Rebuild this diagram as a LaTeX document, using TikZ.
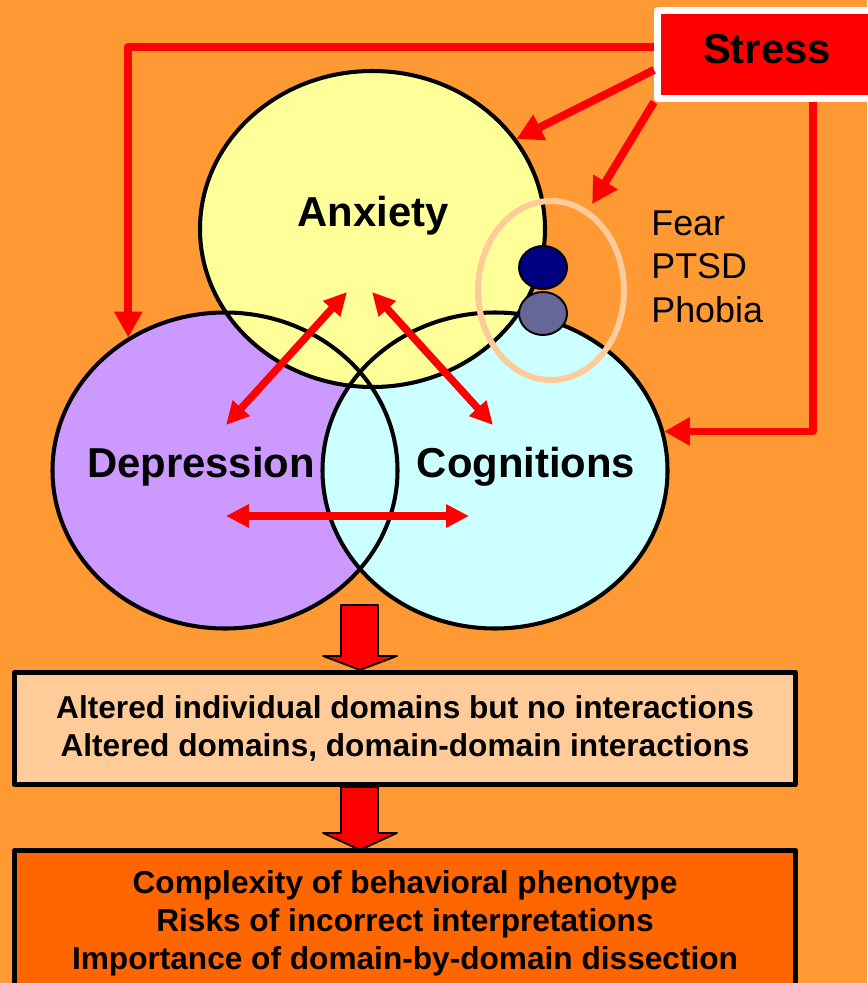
\documentclass[tikz,border=0pt]{standalone}
\usepackage{fontspec}
\setmainfont{Liberation Sans}
\usepackage{tikz}
\usetikzlibrary{positioning,arrows.meta,shapes.geometric}

\definecolor{bgorange}{HTML}{FF9933}
\definecolor{anxyellow}{HTML}{FFFF99}
\definecolor{deppurple}{HTML}{CC99FF}
\definecolor{cogcyan}{HTML}{CCFFFF}
\definecolor{ringpeach}{HTML}{FFCC99}
\definecolor{dotnavy}{HTML}{000080}
\definecolor{dotslate}{HTML}{666699}
\definecolor{outorange}{HTML}{FF6600}

\begin{document}
\begin{tikzpicture}[x=0.02cm, y=-0.02cm, line join=round,
  areafill/.style={ellipse, minimum width=6.9cm, minimum height=6.32cm, inner sep=0pt, outer sep=1.1pt},
  arealine/.style={draw=black, line width=2.3pt},
  areaname/.style={anchor=base, font=\bfseries\fontsize{23.8}{28}\selectfont},
  dotnode/.style={ellipse, draw=black, line width=1.1pt, minimum width=0.96cm, minimum height=0.86cm, inner sep=0pt},
  stressbox/.style={rectangle, fill=red, draw=white, line width=4pt, anchor=west, minimum width=4.38cm, minimum height=1.76cm, text depth=0.24cm, font=\bfseries\fontsize{23.8}{28}\selectfont},
  stressline/.style={draw=red, line width=4.5pt, line cap=butt, -{Triangle[width=15.3pt, length=14.7pt]}},
  linkarrow/.style={draw=red, line width=4.25pt, line cap=butt, {Triangle[width=12.5pt, length=13pt]}-{Triangle[width=12.5pt, length=13pt]}},
  blockarrow/.style={fill=red, draw=black, line width=1pt},
  resultbox/.style={rectangle, draw=black, line width=2.8pt, minimum width=15.62cm, align=center, font=\bfseries\fontsize{18}{21.7}\selectfont}]

% background
\fill[bgorange] (0,0) rectangle (867,983);
\useasboundingbox (0,0) rectangle (867,983);

% the three domains
\node[areafill, fill=deppurple] (dep) at (225,470.5) {};
\node[areafill, fill=cogcyan] (cog) at (495,470.5) {};
\node[areafill, fill=anxyellow] (anx) at (372.5,229) {};
\foreach \n in {dep,cog,anx} {
  \draw[arealine] (\n.center) ellipse [x radius=172.5, y radius=158];
}

% fear ring and dots
\node[ellipse, draw=ringpeach, line width=3.4pt, minimum width=2.92cm, minimum height=3.58cm, inner sep=0pt] (fear) at (551,290.5) {};
\node[dotnode, fill=dotnavy] (fear dot) at (543,267.5) {};
\node[dotnode, fill=dotslate] (ptsd dot) at (543,313.5) {};
\node[anchor=north west, inner sep=0pt, align=left, font=\fontsize{20.4}{25}\selectfont] (fearlist) at (651,210) {Fear\\PTSD\\Phobia};

% domain-domain interactions
\coordinate (anx dl) at (347,292);
\coordinate (anx dr) at (372,292);
\coordinate (dep ur) at (226,425);
\coordinate (cog ul) at (493,425);
\coordinate (dep r) at (226,516);
\coordinate (cog l) at (469,516);
\draw[linkarrow] (anx dl) -- (dep ur);
\draw[linkarrow] (anx dr) -- (cog ul);
\draw[linkarrow] (dep r) -- (cog l);

% names
\node[areaname] (anxname) at (373,227) {Anxiety};
\node[areaname] (depname) at (201,477) {Depression};
\node[areaname] (cogname) at (526,477) {Cognitions};

% stress and its links
\node[stressbox] (stress) at (654,54.5) {Stress};
\draw[stressline] (stress.west |- 0,47) -| (dep.126);
\draw[stressline] (stress.west |- 0,70) -- (anx.32);
\draw[stressline, shorten >=4pt] (stress.south west) -- (fear.65);
\draw[stressline] (stress.south -| 813,0) |- (cog.13);

% block arrows
\foreach \top/\neck/\tip in {605/656/670, 787/833/850} {
  \draw[blockarrow] (341,\top) -- (378,\top) -- (378,\neck) -- (397,\neck)
    -- (360,\tip) -- (323,\neck) -- (341,\neck) -- cycle;
}

% result boxes
\node[resultbox, fill=ringpeach, minimum height=2.24cm] (domains) at (405,728.5)
  {Altered individual domains but no interactions\\Altered domains, domain-domain interactions};
\node[resultbox, fill=outorange, minimum height=2.92cm] (outcome) at (405,923.5)
  {Complexity of behavioral phenotype\\Risks of incorrect interpretations\\Importance of domain-by-domain dissection};
\end{tikzpicture}
\end{document}
